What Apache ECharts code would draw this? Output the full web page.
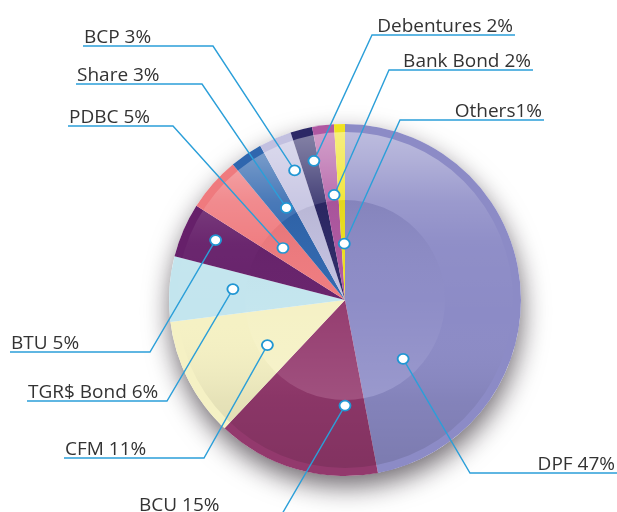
<!DOCTYPE html>
<html>
<head>
<meta charset="utf-8">
<style>
    *{box-sizing: border-box;}
    body,html{margin:0;padding:0;width:100%;height:100%;background:#fff;}
    #chart{width:617px;height:512px;}
</style>
<script src="https://cdn.jsdelivr.net/npm/echarts@6/dist/echarts.min.js"></script>
</head>
<body>
<div id="chart"></div>
<script>
    // slices, clockwise from 12 o'clock
    var names = ["DPF", "BCU", "CFM", "TGR$ Bond", "BTU", "PDBC", "Share", "BCP", "Debentures", "Bank Bond", "Others"];
    var values = [47, 15, 11, 6, 5, 5, 3, 3, 2, 2, 1];
    var colors = ["#8c8bc6", "#93396d", "#f5f1c4", "#c3e5ee", "#66206a", "#ef7a7e", "#2f66ae", "#c2c0e0", "#2c2866", "#b058a2", "#efe21f"];

    // where the little marker sits in each slice: [radius fraction, fraction along the slice]
    var markerSpots = [[0.47, 0.80], [0.60, 0.20], [0.51, 0.42], [0.64, 0.59], [0.81, 0.58], [0.46, 0.42],
                       [0.62, 0.66], [0.79, 0.70], [0.81, 0.75], [0.60, 0.68], [0.32, 0.80]];
    // label guide: [corner x, underline y, far end x]
    var guides = [[470, 473, 617], [282, 514, 138], [204, 458, 64], [167, 401, 27], [150, 352, 10], [173, 126, 68],
                  [202, 84, 76], [213, 46, 83], [372, 35, 515], [389, 70, 533], [400, 120, 544]];

    var cx = 345, cy = 300, R = 176, rimR = 168, innerR = 100;
    var lineColor = "#2b9fd9";

    var total = 0, cum = [];
    for (var i = 0; i < values.length; i++) { cum.push(total); total += values[i]; }

    function markerAngle(i){
        return cum[i] + markerSpots[i][1] * values[i];
    }
    function markerPx(i){
        var a = markerAngle(i) / total * Math.PI * 2;
        var r = markerSpots[i][0] * R;
        return [cx + r * Math.sin(a), cy - r * Math.cos(a)];
    }
    function labelText(name, v){
        return name + (name === "Others" ? "" : " ") + v + "%";
    }

    var pieData = [], markerData = [];
    for (var j = 0; j < values.length; j++) {
        pieData.push({name: names[j], value: values[j], itemStyle: {color: colors[j]}});
        markerData.push([markerSpots[j][0], markerAngle(j)]);
    }

    var chart = echarts.init(document.getElementById("chart"));
    var quiet = {silent: true, label: {show: false}, labelLine: {show: false}, emphasis: {disabled: true}, animation: false};

    var option = {
        backgroundColor: "#fff",
        animation: false,
        polar: {center: [cx, cy], radius: R},
        angleAxis: {type: "value", min: 0, max: total, startAngle: 90, clockwise: true,
            axisLine: {show: false}, axisTick: {show: false}, axisLabel: {show: false}, splitLine: {show: false}},
        radiusAxis: {type: "value", min: 0, max: 1,
            axisLine: {show: false}, axisTick: {show: false}, axisLabel: {show: false}, splitLine: {show: false}},
        series: [
            // drop shadow under the whole disc
            Object.assign({type: "pie", center: [cx, cy], radius: [0, R], z: 1,
                data: [{value: 1, itemStyle: {color: "#fff", shadowBlur: 26, shadowColor: "rgba(20,10,20,0.6)", shadowOffsetY: 11, shadowOffsetX: 1}}]
            }, quiet),
            // slices (their plain colour shows as the rim)
            Object.assign({type: "pie", center: [cx, cy], radius: [0, R], startAngle: 90, z: 2,
                itemStyle: {borderWidth: 0}, data: pieData
            }, quiet),
            // glossy body ring
            Object.assign({type: "pie", center: [cx, cy], radius: [innerR, rimR], z: 3,
                data: [{value: 1, itemStyle: {borderWidth: 0, color: {type: "linear", global: true, x: 0, y: cy - R, x2: 0, y2: cy + R,
                    colorStops: [
                        {offset: 0, color: "rgba(255,255,255,0.45)"},
                        {offset: 0.1, color: "rgba(255,255,255,0.32)"},
                        {offset: 0.22, color: "rgba(255,255,255,0.13)"},
                        {offset: 0.34, color: "rgba(255,255,255,0.03)"},
                        {offset: 0.55, color: "rgba(255,255,255,0)"},
                        {offset: 0.78, color: "rgba(0,0,0,0.06)"},
                        {offset: 1, color: "rgba(0,0,0,0.12)"}
                    ]}}}]
            }, quiet),
            // inner disc
            Object.assign({type: "pie", center: [cx, cy], radius: [0, innerR], z: 3,
                data: [{value: 1, itemStyle: {borderWidth: 0, color: {type: "linear", global: true, x: 0, y: cy - innerR, x2: 0, y2: cy + innerR,
                    colorStops: [{offset: 0, color: "rgba(0,0,0,0.05)"}, {offset: 0.5, color: "rgba(255,255,255,0.02)"}, {offset: 1, color: "rgba(255,255,255,0.12)"}]}}}]
            }, quiet),
            // labels and guide lines
            {
                type: "pie", center: [cx, cy], radius: [0, R], startAngle: 90, z: 4,
                silent: true, animation: false, avoidLabelOverlap: false,
                itemStyle: {color: "rgba(0,0,0,0)", borderWidth: 0},
                emphasis: {disabled: true},
                data: pieData.map(function(d){ return {name: d.name, value: d.value}; }),
                label: {
                    show: true, position: "outside", color: "#333",
                    fontFamily: "Open Sans", fontSize: 19,
                    formatter: function(p){ return labelText(p.name, p.value); }
                },
                labelLine: {show: true, length: 10, length2: 10, smooth: false, lineStyle: {color: lineColor, width: 1.4}},
                labelLayout: function(p){
                    var g = guides[p.dataIndex];
                    var left = g[2] < g[0];
                    return {
                        x: left ? g[2] + 1 : g[2] - 2,
                        y: g[1] + 1,
                        align: left ? "left" : "right",
                        verticalAlign: "bottom",
                        labelLinePoints: [markerPx(p.dataIndex), [g[0], g[1]], [g[2], g[1]]]
                    };
                }
            },
            // marker dots
            {
                type: "scatter", coordinateSystem: "polar", z: 6, silent: true, animation: false,
                symbol: "circle", symbolSize: [11, 10],
                itemStyle: {color: "#fff", borderColor: "#2196d3", borderWidth: 1.8, opacity: 1},
                data: markerData
            }
        ]
    };
    chart.setOption(option);
</script>
</body>
</html>
